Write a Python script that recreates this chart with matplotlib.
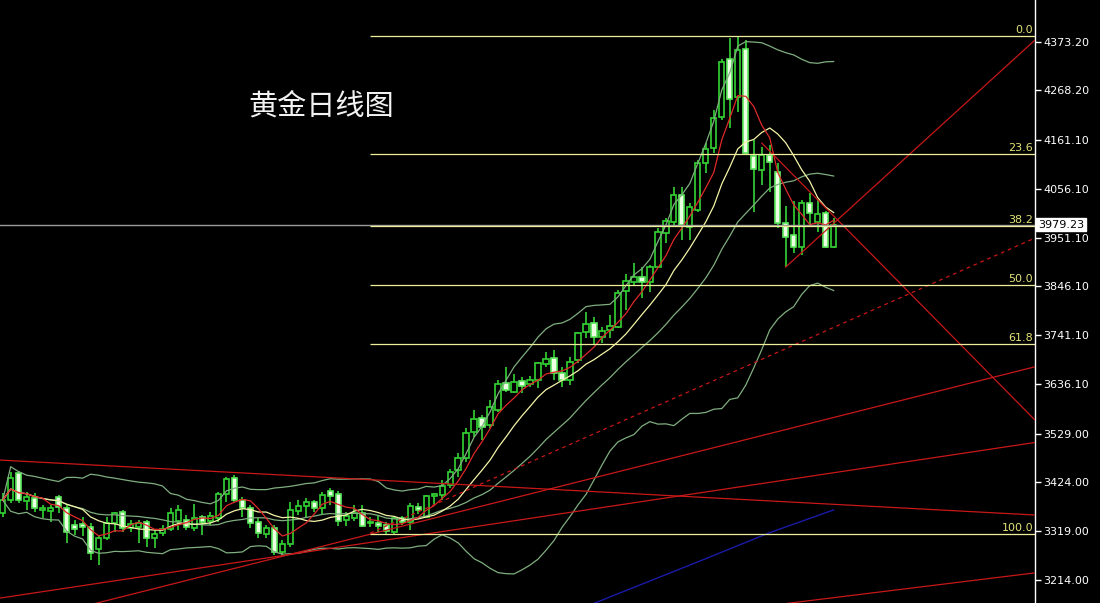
import numpy as np
import pandas as pd
import matplotlib
matplotlib.use("Agg")
import matplotlib.pyplot as plt
import matplotlib.transforms as mtransforms

# ---------------- data ----------------
title = "黄金日线图"

opens = [3358, 3386, 3444, 3384, 3391, 3365, 3363, 3393, 3369, 3333,
         3335, 3328, 3281, 3305, 3337, 3361, 3326, 3328, 3339, 3305,
         3315, 3324, 3341, 3343, 3326, 3350, 3341, 3348, 3399, 3434,
         3386, 3369, 3339, 3313, 3326, 3274, 3292, 3363, 3373, 3382,
         3369, 3406, 3399, 3343, 3348, 3358, 3337, 3337, 3333, 3317,
         3348, 3339, 3371, 3350, 3395, 3397, 3419, 3451, 3477, 3533,
         3563, 3548, 3580, 3638, 3619, 3643, 3636, 3645, 3679, 3692,
         3660, 3645, 3688, 3748, 3768, 3737, 3752, 3759, 3836, 3856,
         3867, 3856, 3888, 3961, 3985, 4043, 3974, 4011, 4112, 4144,
         4211, 4336, 4254, 4358, 4127, 4097, 4129, 4093, 3983, 3957,
         3931, 4026, 3985, 4004, 3931]
highs = [3401, 3447, 3449, 3404, 3401, 3376, 3376, 3397, 3376, 3343,
         3350, 3337, 3311, 3350, 3361, 3365, 3343, 3343, 3343, 3322,
         3333, 3369, 3376, 3354, 3378, 3354, 3361, 3404, 3436, 3440,
         3393, 3376, 3348, 3333, 3333, 3300, 3382, 3386, 3391, 3386,
         3404, 3412, 3406, 3361, 3376, 3376, 3350, 3354, 3339, 3352,
         3352, 3380, 3380, 3397, 3401, 3429, 3453, 3488, 3541, 3580,
         3569, 3602, 3645, 3673, 3658, 3651, 3653, 3684, 3705, 3709,
         3673, 3694, 3748, 3791, 3780, 3759, 3785, 3839, 3873, 3897,
         3888, 3892, 3972, 3994, 4060, 4060, 4026, 4119, 4155, 4226,
         4336, 4381, 4386, 4377, 4162, 4147, 4151, 4112, 4019, 4030,
         4032, 4047, 4032, 4009, 3994]
lows = [3350, 3380, 3380, 3365, 3361, 3348, 3339, 3358, 3294, 3311,
        3309, 3257, 3246, 3300, 3317, 3317, 3317, 3294, 3285, 3283,
        3309, 3320, 3322, 3322, 3320, 3311, 3333, 3339, 3382, 3382,
        3350, 3326, 3305, 3305, 3268, 3268, 3285, 3354, 3350, 3361,
        3354, 3376, 3330, 3330, 3341, 3328, 3328, 3317, 3313, 3313,
        3333, 3322, 3356, 3348, 3376, 3386, 3412, 3436, 3468, 3522,
        3516, 3541, 3576, 3619, 3617, 3617, 3630, 3628, 3673, 3645,
        3630, 3634, 3681, 3735, 3720, 3724, 3735, 3757, 3795, 3849,
        3821, 3834, 3886, 3940, 3974, 3946, 3946, 4007, 4091, 4134,
        4205, 4187, 4222, 4129, 4007, 4065, 4050, 3972, 3888, 3918,
        3914, 3979, 3963, 3929, 3929]
closes = [3386, 3434, 3386, 3393, 3369, 3369, 3369, 3371, 3317, 3324,
          3328, 3272, 3305, 3337, 3358, 3326, 3335, 3337, 3305, 3313,
          3324, 3358, 3365, 3328, 3348, 3339, 3352, 3399, 3432, 3386,
          3369, 3337, 3315, 3326, 3274, 3292, 3365, 3373, 3382, 3369,
          3397, 3395, 3341, 3352, 3358, 3330, 3339, 3330, 3320, 3348,
          3339, 3373, 3365, 3395, 3399, 3417, 3447, 3477, 3531, 3561,
          3544, 3587, 3636, 3623, 3640, 3632, 3645, 3681, 3690, 3660,
          3645, 3684, 3746, 3765, 3737, 3750, 3761, 3832, 3858, 3867,
          3856, 3888, 3963, 3987, 4043, 3979, 4017, 4112, 4142, 4209,
          4330, 4250, 4355, 4134, 4099, 4129, 4114, 3983, 3953, 3931,
          4026, 4004, 4002, 3931, 3979.23]

last_price = 3979.23

# long-period moving average (dark blue), sampled at candle indices
blue_idx = [72, 80, 88, 96, 104]
blue_val = [3150, 3205, 3260, 3316, 3365]

# Fibonacci retracement
fib_levels = [0.0, 23.6, 38.2, 50.0, 61.8, 100.0]
fib_high = 4385.0
fib_low = 3314.0
fib_start = 46

# trend lines: (i1, p1, i2, p2, extend_left, dashed)
trend_lines = [
    (0, 3472, 104, 3377, True, False),
    (0, 3176, 104, 3445, True, False),
    (14, 3174, 104, 3564, True, False),
    (104, 3176, 129, 3229, True, False),
    (46, 3315, 104, 3758, False, True),
    (95, 4155, 104, 3998, False, False),
    (98, 3888, 104, 3982, False, False),
]

yticks = [4373.20, 4268.20, 4161.10, 4056.10, 3951.10, 3846.10,
          3741.10, 3636.10, 3529.00, 3424.00, 3319.00, 3214.00]

# ---------------- figure ----------------
fig = plt.figure(figsize=(11, 6.03), dpi=100, facecolor="black")
ax = fig.add_axes([0, 0, 1035 / 1100, 1], facecolor="black")
XMIN, XMAX = -0.34, 129.2
ax.set_xlim(XMIN, XMAX)
ax.set_ylim(3164.5, 4463.0)

o = np.array(opens, float)
h = np.array(highs, float)
l = np.array(lows, float)
c = np.array(closes, float)
x = np.arange(len(c))
up = c >= o

green = "#33d433"
ax.vlines(x, l, h, color=green, lw=1.2, zorder=2)
bot = np.minimum(o, c)
hgt = np.abs(c - o)
ax.bar(x[up], hgt[up], bottom=bot[up], width=0.66, facecolor="black",
       edgecolor=green, lw=1.2, zorder=3)
ax.bar(x[~up], hgt[~up], bottom=bot[~up], width=0.66, facecolor="#ecffe2",
       edgecolor="#5eea5e", lw=1.2, zorder=3)

# indicators
s = pd.Series(c)
ma5 = s.rolling(5, min_periods=1).mean()
ma10 = s.rolling(10, min_periods=1).mean()
mid = s.rolling(20, min_periods=1).mean()
sd = s.rolling(20, min_periods=1).std(ddof=0).fillna(0)
bb_col = "#7fae7f"
ax.plot(x, mid + 2 * sd, color=bb_col, lw=0.9, zorder=4)
ax.plot(x, mid, color=bb_col, lw=0.9, zorder=4)
ax.plot(x, mid - 2 * sd, color=bb_col, lw=0.9, zorder=4)
ax.plot(x, ma10, color="#f4f4a8", lw=0.9, zorder=4)
ax.plot(x, ma5, color="#e02828", lw=0.9, zorder=4)
ax.plot(blue_idx, blue_val, color="#1a1aa8", lw=1.0, zorder=4)

# trend lines
for (i1, p1, i2, p2, ext_left, dashed) in trend_lines:
    slope = (p2 - p1) / (i2 - i1)
    xs = np.array([XMIN if ext_left else i1, XMAX])
    ys = p1 + slope * (xs - i1)
    ax.plot(xs, ys, color="#c81818", lw=0.9, zorder=5,
            ls=(0, (3, 3)) if dashed else "-")

# current price line
ax.axhline(last_price, color="#9a9a9a", lw=1.0, zorder=5)

# fibonacci
blend = mtransforms.blended_transform_factory(ax.transAxes, ax.transData)
for lvl in fib_levels:
    p = fib_high - lvl / 100.0 * (fib_high - fib_low)
    ax.hlines(p, fib_start, XMAX, color="#eeee9a", lw=0.9, zorder=5)
    ax.text(1 - 2 / 1035, p + 2.0, f"{lvl:.1f}", transform=blend, ha="right",
            va="bottom", color="#e4e47a", fontsize=8, family="DejaVu Sans", zorder=6)

# axis styling
for sp in ["left", "top", "bottom"]:
    ax.spines[sp].set_visible(False)
ax.spines["right"].set_color("white")
ax.spines["right"].set_linewidth(1.0)
ax.set_xticks([])
ax.yaxis.tick_right()
ax.set_yticks(yticks)
ax.set_yticklabels([f"{t:.2f}" for t in yticks], family="DejaVu Sans")
ax.tick_params(axis="y", colors="white", length=4, width=1, pad=2,
               labelsize=8, direction="out")

# last price label
ax.annotate(f"{last_price:.2f}", xy=(1, last_price), xycoords=blend,
            xytext=(2, 0), textcoords="offset points", ha="left", va="center",
            fontsize=8, family="DejaVu Sans", color="black", annotation_clip=False,
            bbox=dict(boxstyle="square,pad=0.15", facecolor="white", edgecolor="white"))

# title
fig.text(248 / 1100, 1 - 107 / 603, title, color="#f2f2f2", fontsize=21,
         family=["Noto Sans CJK SC", "DejaVu Sans"], ha="left", va="center")

fig.savefig("out.png", dpi=100, facecolor="black")
